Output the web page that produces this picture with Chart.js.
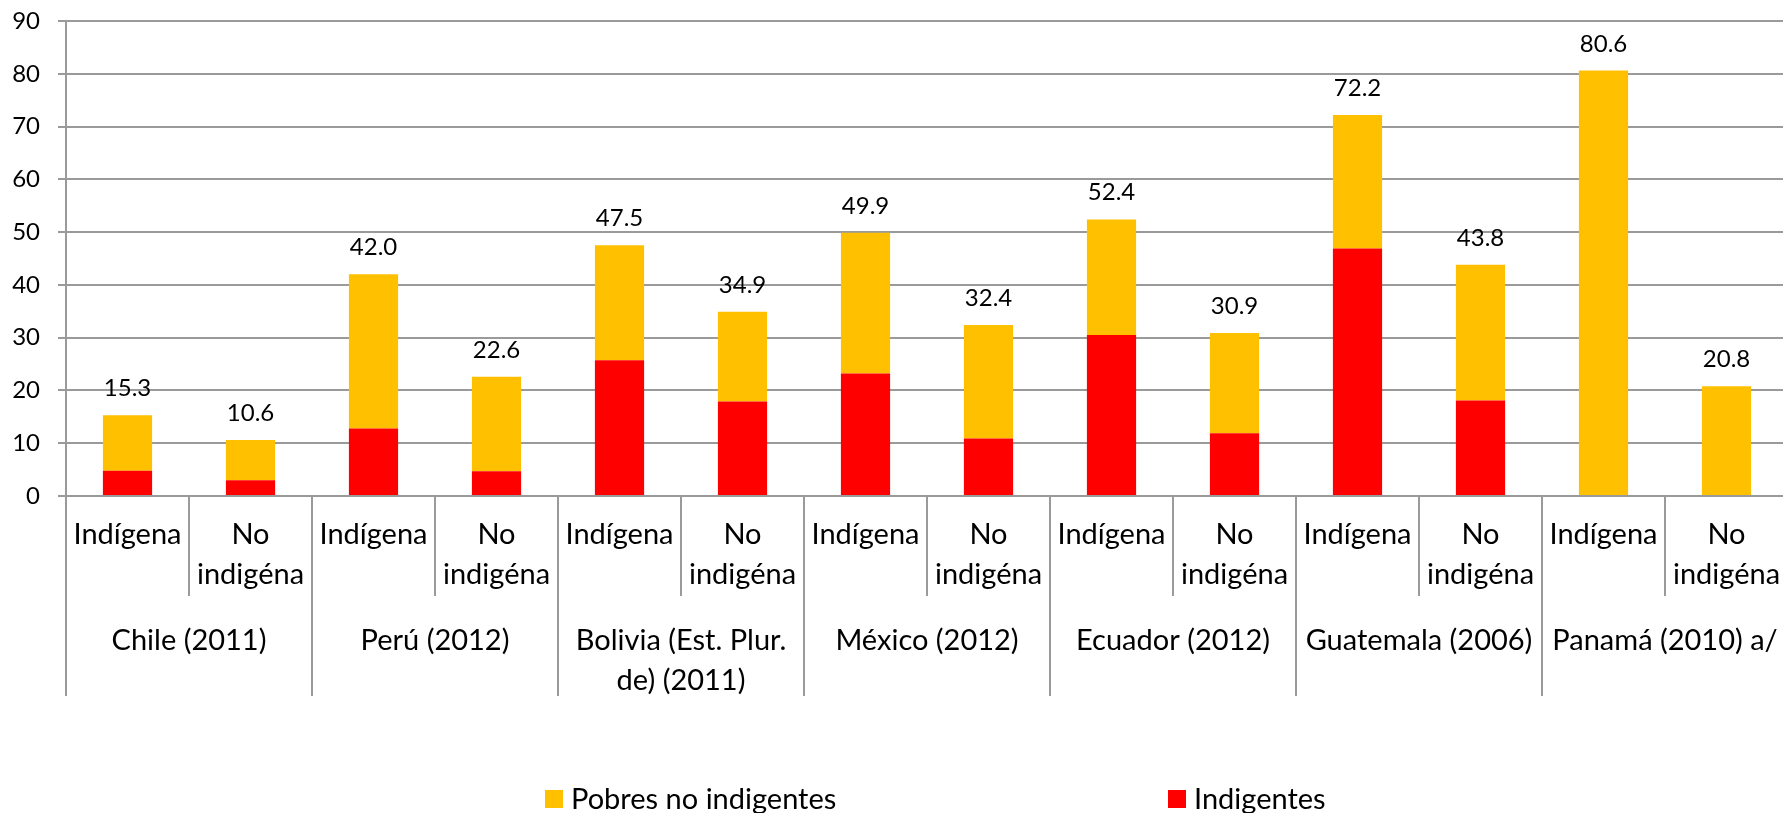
<!DOCTYPE html>
<html>
<head>
<meta charset="utf-8">
<title>Pobreza e indigencia</title>
<script src="https://cdn.jsdelivr.net/npm/chart.js@4.4.1/dist/chart.umd.min.js"></script>
<style>
    html, body { margin: 0; padding: 0; background: #fff; overflow: hidden; }
    #wrap { position: relative; width: 1790px; height: 813px; }
</style>
</head>
<body>
<div id="wrap"><canvas id="povertyChart"></canvas></div>
<script>
var barLabels = [
    'Indígena', ['No', 'indigéna'],
    'Indígena', ['No', 'indigéna'],
    'Indígena', ['No', 'indigéna'],
    'Indígena', ['No', 'indigéna'],
    'Indígena', ['No', 'indigéna'],
    'Indígena', ['No', 'indigéna'],
    'Indígena', ['No', 'indigéna']
];
var countryLabels = [
    'Chile (2011)', 'Perú (2012)', ['Bolivia (Est. Plur.', 'de) (2011)'],
    'México (2012)', 'Ecuador (2012)', 'Guatemala (2006)', 'Panamá (2010) a/'
];
var indigentes = [4.8, 3.0, 12.8, 4.7, 25.7, 17.9, 23.2, 10.9, 30.5, 11.9, 46.9, 18.1, 0, 0];
var pobresNoIndigentes = [10.5, 7.6, 29.2, 17.9, 21.8, 17.0, 26.7, 21.5, 21.9, 19.0, 25.3, 25.7, 80.6, 20.8];
var totalLabels = ['15.3', '10.6', '42.0', '22.6', '47.5', '34.9', '49.9', '32.4', '52.4', '30.9', '72.2', '43.8', '80.6', '20.8'];
var yMax = 90;
var yStep = 10;

(function () {
    var FONT = 'Lato, "Open Sans", sans-serif';
    var GRID = '#9a9a9a';

    // totals written above each stacked bar
    var totalsPlugin = {
        id: 'totals',
        afterDatasetsDraw: function (chart) {
            var ctx = chart.ctx;
            var meta = chart.getDatasetMeta(chart.data.datasets.length - 1);
            ctx.save();
            ctx.font = '24px ' + FONT;
            ctx.fillStyle = '#000';
            ctx.textAlign = 'center';
            ctx.textBaseline = 'alphabetic';
            meta.data.forEach(function (bar, i) {
                ctx.fillText(totalLabels[i], bar.x, bar.y - 19);
            });
            ctx.restore();
        }
    };

    // spread-out legend like the spreadsheet original
    var legendPlugin = {
        id: 'spreadLegend',
        afterDraw: function (chart) {
            var ctx = chart.ctx;
            var items = chart.data.datasets.slice().reverse();
            var xs = [545, 1168];
            var y = 799;
            ctx.save();
            ctx.font = '29px ' + FONT;
            ctx.textBaseline = 'middle';
            ctx.textAlign = 'left';
            items.forEach(function (ds, i) {
                ctx.fillStyle = ds.backgroundColor;
                ctx.fillRect(xs[i], y - 9, 18, 18);
                ctx.fillStyle = '#000';
                ctx.fillText(ds.label, xs[i] + 26, y + 1);
            });
            ctx.restore();
        }
    };

    new Chart(document.getElementById('povertyChart'), {
        type: 'bar',
        data: {
            labels: barLabels,
            datasets: [{
                label: 'Indigentes',
                data: indigentes,
                backgroundColor: '#FF0000',
                barPercentage: 0.4,
                categoryPercentage: 1.0
            }, {
                label: 'Pobres no indigentes',
                data: pobresNoIndigentes,
                backgroundColor: '#FFC000',
                barPercentage: 0.4,
                categoryPercentage: 1.0
            }]
        },
        options: {
            responsive: true,
            maintainAspectRatio: false,
            animation: false,
            layout: { padding: { top: 21, right: 2, bottom: 117, left: 0 } },
            plugins: {
                legend: { display: false },
                tooltip: { enabled: false }
            },
            scales: {
                x: {
                    stacked: true,
                    offset: true,
                    grid: { offset: true, drawOnChartArea: false, tickLength: 100, color: GRID, lineWidth: 2 },
                    border: { display: true, color: GRID, width: 2 },
                    ticks: {
                        autoSkip: false, maxRotation: 0, minRotation: 0,
                        padding: -81, color: '#000',
                        font: { family: FONT, size: 29, lineHeight: 1.38 }
                    },
                    afterFit: function (scale) { scale.height = 100; }
                },
                x2: {
                    type: 'category',
                    position: 'bottom',
                    labels: countryLabels,
                    offset: true,
                    grid: { offset: true, drawOnChartArea: false, tickLength: 100, color: GRID, lineWidth: 2 },
                    border: { display: false },
                    ticks: {
                        autoSkip: false, maxRotation: 0, minRotation: 0,
                        padding: -75, color: '#000',
                        font: { family: FONT, size: 29, lineHeight: 1.38 }
                    },
                    afterFit: function (scale) { scale.height = 100; }
                },
                y: {
                    stacked: true,
                    min: 0,
                    max: yMax,
                    ticks: { stepSize: yStep, padding: 18, color: '#000', font: { family: FONT, size: 24 } },
                    grid: { color: GRID, lineWidth: 2, tickLength: 8 },
                    border: { display: true, color: GRID, width: 2 },
                    afterFit: function (scale) {
                        scale.width = 66;
                        scale.paddingTop = 0;
                        scale.paddingBottom = 0;
                    }
                }
            }
        },
        plugins: [totalsPlugin, legendPlugin]
    });
})();
</script>
</body>
</html>
